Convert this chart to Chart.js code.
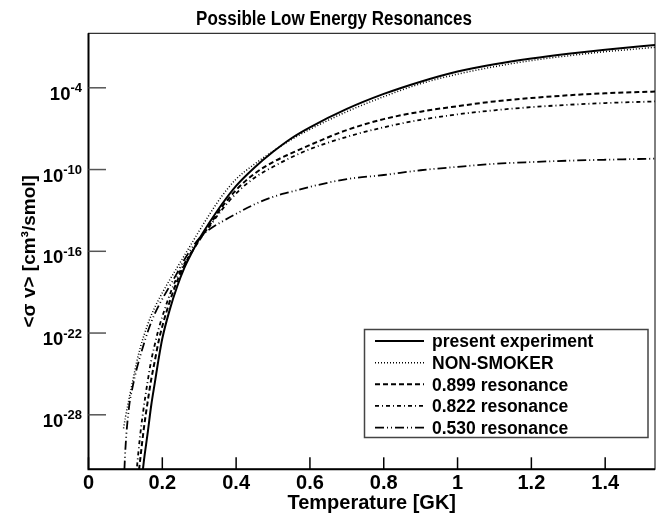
<!DOCTYPE html>
<html>
<head>
<meta charset="utf-8">
<script src="https://cdn.jsdelivr.net/npm/chart.js@4.4.1/dist/chart.umd.min.js"></script>
<style>
html,body{margin:0;padding:0;background:#fff;}
#wrap{width:668px;height:520px;position:relative;}
</style>
</head>
<body>
<div id="wrap"><canvas id="rateChart"></canvas></div>
<script>
// ================= DATA (log10 of <sigma v>) =================
const temps = [0.095,0.10,0.11,0.12,0.13,0.14,0.15,0.16,0.17,0.18,0.19,0.20,0.22,0.24,0.26,0.28,0.30,
0.33,0.36,0.40,0.45,0.50,0.55,0.60,0.70,0.80,0.90,1.00,1.10,1.20,1.30,1.40,1.535];

const presentExp = [null,null,null,null,null,-33.8,-31.4,-29.4,-27.3,-25.6,-23.9,-22.4,-20.3,-18.6,-17.2,-16.1,-15.1,
-13.8,-12.6,-11.2,-9.85,-8.7,-7.7,-6.9,-5.55,-4.45,-3.55,-2.8,-2.27,-1.85,-1.5,-1.2,-0.86];

const nonSmoker = [-29.0,-28.2,-26.8,-25.5,-24.2,-23.1,-22.2,-21.4,-20.7,-20.1,-19.55,-19.05,-18.1,-17.2,-16.3,-15.4,-14.5,
-13.2,-12.0,-10.7,-9.6,-8.65,-7.8,-7.05,-5.75,-4.65,-3.7,-3.0,-2.45,-2.0,-1.65,-1.35,-1.03];

const res899 = [null,null,null,null,-33.8,-31.3,-29.0,-27.1,-25.4,-24.0,-22.6,-21.5,-19.7,-18.2,-17.0,-16.05,-15.2,
-14.0,-12.8,-11.5,-10.3,-9.45,-8.8,-8.2,-7.1,-6.3,-5.75,-5.35,-5.0,-4.75,-4.55,-4.4,-4.28];

const res822 = [null,null,null,-35.0,-32.2,-29.5,-27.4,-25.6,-24.0,-22.8,-21.7,-20.8,-19.2,-17.9,-16.9,-16.0,-15.15,
-14.1,-13.0,-11.75,-10.6,-9.8,-9.1,-8.5,-7.6,-6.9,-6.35,-5.95,-5.65,-5.42,-5.25,-5.12,-5.0];

const res530 = [-33.5,-30.5,-27.4,-25.9,-24.7,-23.7,-22.8,-21.95,-21.2,-20.55,-20.0,-19.5,-18.55,-17.6,-16.6,-15.75,-15.05,
-14.35,-13.85,-13.25,-12.55,-12.0,-11.63,-11.27,-10.7,-10.4,-10.05,-9.8,-9.58,-9.45,-9.35,-9.28,-9.2];

const seriesLabels = ["present experiment","NON-SMOKER","0.899 resonance","0.822 resonance","0.530 resonance"];

const xTicks = [0,0.2,0.4,0.6,0.8,1,1.2,1.4];
const yTickExps = [-4,-10,-16,-22,-28];
const xMax = 1.535;
const yMin = 1e-32, yMax = 1;

const chartTitle = "Possible Low Energy Resonances";
const FONT = "'Liberation Sans', Arial, Helvetica, sans-serif";


// ================= HELPERS =================
function toPoints(logs){
let pts=[];
logs.forEach((v,i)=>{
if(v!==null) pts.push({x:temps[i], y:Math.pow(10,v)});
});
return pts;
}

const styles = [
{dash:[], width:2},
{dash:[1,2], width:1.5},
{dash:[5,3], width:2},
{dash:[4,3,1,3], width:1.8},
{dash:[9,3,1,3,1,3], width:1.8}
];

const allLogs = [presentExp,nonSmoker,res899,res822,res530];


// ================= DECORATION PLUGIN =================
const decor = {
id:"decor",
afterDatasetsDraw(chart){
const {ctx, chartArea:a, scales:{x, y}} = chart;
ctx.save();

// frame
ctx.strokeStyle="#000";
ctx.lineWidth=1;
ctx.strokeRect(a.left, a.top, a.right-a.left, a.bottom-a.top);
ctx.lineWidth=2;
ctx.beginPath();
ctx.moveTo(a.left, a.top);
ctx.lineTo(a.left, a.bottom);
ctx.lineTo(a.right, a.bottom);
ctx.stroke();

// x ticks
ctx.lineWidth=1.5;
xTicks.forEach(v=>{
let px = x.getPixelForValue(v);
ctx.beginPath();
ctx.moveTo(px, a.bottom);
ctx.lineTo(px, a.bottom-12);
ctx.stroke();
});

// y ticks + labels 10^n
yTickExps.forEach(e=>{
let py = y.getPixelForValue(Math.pow(10,e));
ctx.strokeStyle="#555";
ctx.lineWidth=1.5;
ctx.beginPath();
ctx.moveTo(a.left, py);
ctx.lineTo(a.left+17.5, py);
ctx.stroke();

let sup = String(e);
ctx.font = "bold 13px "+FONT;
let supW = ctx.measureText(sup).width;
ctx.font = "bold 18.5px "+FONT;
let baseW = ctx.measureText("10").width;
let right = a.left - 6.5;
ctx.fillStyle="#000";
ctx.textAlign="left";
ctx.textBaseline="alphabetic";
ctx.fillText("10", right - supW - baseW, py + 12);
ctx.font = "bold 13px "+FONT;
ctx.fillText(sup, right - supW, py + 4.5);
});

// title (slightly condensed like the original)
ctx.font = "bold 20px "+FONT;
ctx.textAlign="center";
ctx.fillStyle="#000";
ctx.save();
ctx.translate(334, 25);
ctx.scale(0.85, 1);
ctx.fillText(chartTitle, 0, 0);
ctx.restore();

// legend
let lx = 364.5, ly = 329.5, lw = 283.5, lh = 108;
ctx.fillStyle="#fff";
ctx.fillRect(lx, ly, lw, lh);
ctx.strokeStyle="#444";
ctx.lineWidth=1.5;
ctx.strokeRect(lx, ly, lw, lh);

chart.data.datasets.forEach((ds,i)=>{
let ry = 341 + i*21.65;
ctx.strokeStyle="#000";
ctx.lineWidth=ds.borderWidth;
ctx.setLineDash(ds.borderDash);
ctx.beginPath();
ctx.moveTo(375, ry);
ctx.lineTo(424, ry);
ctx.stroke();
ctx.setLineDash([]);
ctx.font = "bold 17.5px "+FONT;
ctx.textAlign="left";
ctx.fillStyle="#000";
ctx.fillText(ds.label, 432, ry + 6.2);
});

ctx.restore();
}
};


// ================= CHART =================
let datasets = allLogs.map((logs,i)=>({
label: seriesLabels[i],
data: toPoints(logs),
borderColor:"#000",
borderWidth: styles[i].width,
borderDash: styles[i].dash,
pointRadius:0,
fill:false,
cubicInterpolationMode:"monotone",
clip:0
}));

new Chart(document.getElementById("rateChart"),{
type:"line",
data:{datasets:datasets},
options:{
responsive:true,
maintainAspectRatio:false,
animation:false,
devicePixelRatio:1,
layout:{padding:{top:33.3, right:13, bottom:0, left:0}},
plugins:{legend:{display:false}, title:{display:false}, tooltip:{enabled:false}},
scales:{
x:{
type:"linear", min:0, max:xMax,
afterBuildTicks: s => { s.ticks = xTicks.map(v=>({value:v})); },
afterFit: s => { s.height = 50.7; },
grid:{display:false, drawTicks:false},
border:{display:false},
ticks:{font:{family:FONT, size:20, weight:"bold"}, color:"#000", padding:2, maxRotation:0, autoSkip:false,
callback: v => String(v)},
title:{display:true, text:"Temperature [GK]", color:"#000",
font:{family:FONT, size:20, weight:"bold"}, padding:{top:0, bottom:4.5}}
},
y:{
type:"logarithmic", min:yMin, max:yMax,
afterFit: s => { s.width = 88.5; },
ticks:{display:false},
grid:{display:false, drawTicks:false},
border:{display:false},
title:{display:true, text:"<σ v> [cm³/smol]", color:"#000",
font:{family:FONT, size:19, weight:"bold"}, padding:{top:18, bottom:0}}
}
}
},
plugins:[decor]
});
</script>
</body>
</html>
